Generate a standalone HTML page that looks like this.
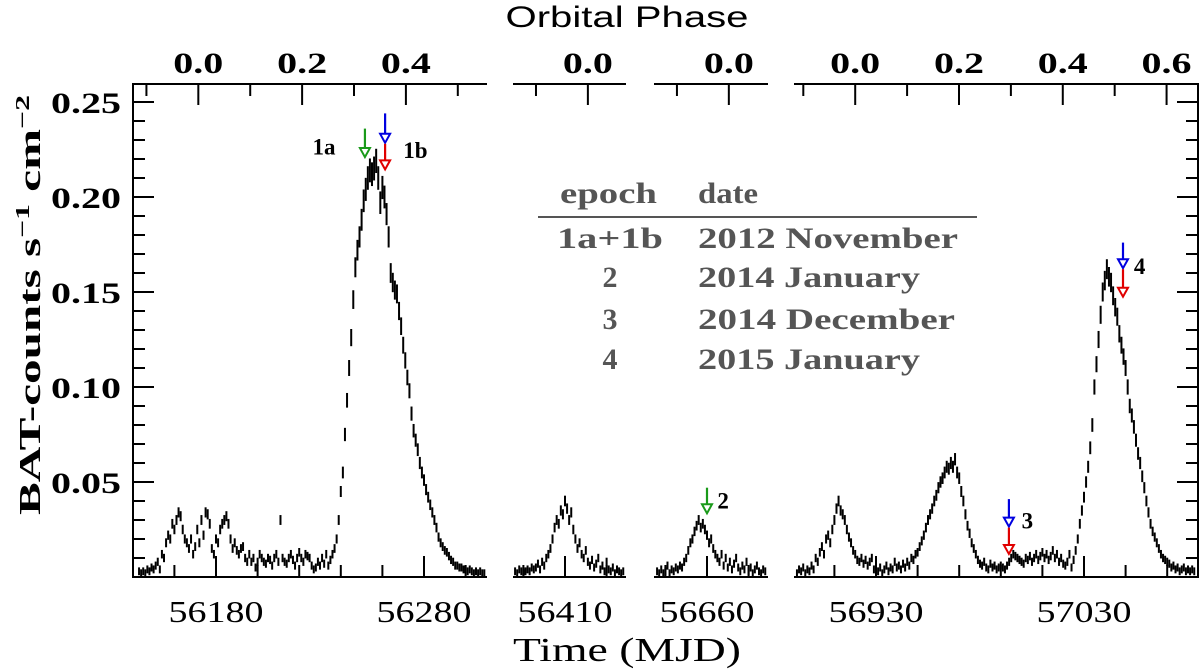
<!DOCTYPE html>
<html><head><meta charset="utf-8">
<style>
html,body{margin:0;padding:0;background:#fff;}
svg{display:block;}
.tl{font-family:"Liberation Serif",serif;font-weight:bold;fill:#000;}
.bl{font-family:"Liberation Serif",serif;fill:#000;}
.lg{font-family:"Liberation Serif",serif;font-weight:bold;fill:#555;font-size:30px;}
</style></head>
<body>
<svg id="chart" width="1200" height="671" viewBox="0 0 1200 671" xmlns="http://www.w3.org/2000/svg">
  <text x="627" y="27" text-anchor="middle" font-family="Liberation Sans, sans-serif" font-size="30" textLength="243" lengthAdjust="spacingAndGlyphs">Orbital Phase</text>
  <text x="627" y="661" text-anchor="middle" class="bl" font-size="34" textLength="228" lengthAdjust="spacingAndGlyphs">Time (MJD)</text>
  <text transform="translate(40,305) rotate(-90)" text-anchor="middle" class="tl" font-size="31" textLength="420" lengthAdjust="spacingAndGlyphs">BAT-counts s<tspan baseline-shift="super" font-size="20">−1</tspan> cm<tspan baseline-shift="super" font-size="20">−2</tspan></text>
  <g id="axes"></g>
  <g id="marks"></g>
  <g id="annot"></g>
  <g>
    <text class="lg" x="560" y="203" textLength="97" lengthAdjust="spacingAndGlyphs">epoch</text>
    <text class="lg" x="698" y="203" textLength="60" lengthAdjust="spacingAndGlyphs">date</text>
    <line x1="538" y1="217" x2="977" y2="217" stroke="#555" stroke-width="2"/>
    <text class="lg" x="557" y="248" textLength="106" lengthAdjust="spacingAndGlyphs">1a+1b</text>
    <text class="lg" x="698" y="248" textLength="260" lengthAdjust="spacingAndGlyphs">2012 November</text>
    <text class="lg" x="610" y="287" text-anchor="middle">2</text>
    <text class="lg" x="698" y="287" textLength="222" lengthAdjust="spacingAndGlyphs">2014 January</text>
    <text class="lg" x="610" y="329" text-anchor="middle">3</text>
    <text class="lg" x="698" y="329" textLength="257" lengthAdjust="spacingAndGlyphs">2014 December</text>
    <text class="lg" x="610" y="369" text-anchor="middle">4</text>
    <text class="lg" x="698" y="369" textLength="222" lengthAdjust="spacingAndGlyphs">2015 January</text>
  </g>
</svg>
<script>
// ---- data ----
const p1Start = 56143;
const p1Values = [
.003,.002,.003,.002,.004,.003,.005,.004,.006,
.008,.004,.012,.010,.018,.022,.020,.028,.025,
.030,.034,.032,.025,.020,.018,.015,.020,.012,.016,
.025,.018,.030,.022,.034,.033,.028,.015,.012,.020,
.018,.025,.028,.030,.032,.028,.020,.015,.018,.014,
.012,.015,.016,.010,.008,.012,.008,.010,.005,.008,
.012,.010,.008,.007,.010,.009,.006,.010,.012,.008,
.030,.010,.008,.007,.010,.012,.009,.006,.010,.013,
.010,.008,.012,.011,.010,.006,.004,.005,.008,.006,
.010,.007,.012,.006,.009,.012,.015,.020,.030,.045,
.055,.075,.093,.110,.126,.146,.163,.172,.179,.188,
.198,.204,.210,.214,.212,.215,.219,.210,.197,.205,
.200,.191,.179,.160,.155,.151,.149,.140,.132,.122,
.114,.105,.098,.086,.077,.072,.067,.060,.055,.051,
.046,.042,.038,.034,.030,.026,.021,.018,.016,.014,
.013,.011,.009,.008,.006,.006,.005,.005,.004,.004,
.003,.004,.003,.002,.003,.002,.003,.002,.002,.003];
const p2Start = 56386;
const p2Values = [
.003,.002,.004,.003,.002,.003,.004,.003,.005,.004,
.005,.007,.004,.008,.006,.010,.012,.015,.020,.026,
.030,.028,.035,.033,.040,.036,.030,.034,.025,.020,
.015,.018,.012,.010,.014,.008,.006,.009,.005,.007,
.010,.004,.006,.003,.008,.004,.003,.005,.002,.004,.003,.002,.003];
const p3Start = 56636;
const p3Values = [
.003,.002,.004,.002,.003,.006,.002,.004,.003,.005,
.004,.006,.005,.008,.010,.014,.018,.020,.024,.027,
.030,.026,.028,.025,.022,.018,.020,.015,.012,.010,
.008,.012,.006,.010,.005,.008,.004,.007,.010,.005,
.003,.006,.004,.008,.003,.005,.002,.004,.006,.003,.002,.004,.003];
const p4Start = 56891;
const p4Values = [
.003,.002,.004,.003,.005,.002,.004,.003,.006,.004,
.010,.008,.013,.016,.012,.020,.022,.018,.025,.030,
.036,.040,.035,.033,.030,.025,.021,.018,.014,.012,
.009,.008,.010,.007,.009,.006,.008,.010,.004,.006,
.003,.005,.002,.004,.006,.003,.005,.004,.008,.005,
.006,.004,.007,.005,.008,.006,.010,.009,.012,.013,
.016,.019,.022,.026,.030,.033,.036,.040,.043,.047,
.050,.052,.055,.058,.057,.060,.058,.062,.055,.052,
.045,.040,.033,.027,.023,.018,.015,.012,.009,.007,
.006,.008,.005,.004,.007,.005,.006,.004,.005,.006,
.005,.004,.006,.008,.010,.012,.011,.010,.009,.008,
.007,.010,.009,.011,.008,.010,.012,.009,.011,.013,
.010,.012,.009,.011,.014,.010,.012,.008,.010,.007,
.006,.008,.012,.005,.009,.014,.020,.028,.035,.042,
.050,.058,.068,.080,.100,.112,.125,.138,.150,.156,
.162,.158,.155,.148,.142,.137,.128,.122,.116,.110,
.100,.090,.085,.079,.072,.065,.060,.053,.047,.040,
.034,.028,.024,.021,.018,.015,.012,.010,.009,.008,
.007,.005,.006,.004,.005,.003,.004,.005,.003,.004,.003,.004,.003];
const errFloor = 0.002;
const errFrac = 0.02;
const yTicks = [0.05,0.10,0.15,0.20,0.25];
const yTickLabels = ["0.05","0.10","0.15","0.20","0.25"];
const bottomLabels = [[56180,56280],[56410],[56660],[56930,57030]];
const phaseLabels = [[0.0,0.2,0.4],[0.0],[0.0],[0.0,0.2,0.4,0.6]];
const orbitT0 = 56171.5;
const orbitP = 249.5;
const arrowMJD = [56251.6, 56261.3, 56261.3, 56660, 56993.9, 56993.9, 57048.75, 57048.75];
const arrowTop = [0.236, 0.244, 0.228, 0.047, 0.041, 0.026, 0.176, 0.162];
const arrowTip = [0.2205, 0.228, 0.214, 0.033, 0.026, 0.0116, 0.162, 0.147];
const arrowColor = ["#1a9a1a","#0000e0","#e00000","#1a9a1a","#0000e0","#e00000","#0000e0","#e00000"];
const arrowPanel = [0,0,0,2,3,3,3,3];
const labelText = ["1a","1b","2","3","4"];
const labelMJD = [56226.4, 56270, 56665, 57000, 57054];
const labelVal = [0.2225, 0.2205, 0.036, 0.0255, 0.1595];
const labelPanel = [0,0,2,3,3];

// ---- layout ----
const NS = "http://www.w3.org/2000/svg";
const PXD = 2.08;
const yTop = 84, yBot = 577;
const panels = [
  {x0:133,x1:487,refM:56180,refX:216,start:p1Start,vals:p1Values,left:true},
  {x0:513,x1:626,refM:56410,refX:565,start:p2Start,vals:p2Values},
  {x0:654,x1:768,refM:56660,refX:707,start:p3Start,vals:p3Values},
  {x0:794,x1:1198,refM:56930,refX:876,start:p4Start,vals:p4Values,right:true}
];
function xs(p, m){ return p.refX + (m - p.refM) * PXD; }
function ys(v){ return yBot - v * 1900; }
function mk(tag, attrs, parent){
  const e = document.createElementNS(NS, tag);
  for (const k in attrs) e.setAttribute(k, attrs[k]);
  parent.appendChild(e); return e;
}
const axes = document.getElementById('axes');
const marks = document.getElementById('marks');
const annot = document.getElementById('annot');

panels.forEach((p, pi) => {
  const g = mk('g', {}, axes);
  
  
  const line = (x1,y1,x2,y2,w) => mk('line',{x1,y1,x2,y2,stroke:'#000','stroke-width':w||2},g);
  line(p.x0, yTop, p.x1, yTop);
  line(p.x0, yBot, p.x1, yBot);
  if (p.left) line(p.x0, yTop-1, p.x0, yBot+1);
  if (p.right) line(p.x1, yTop-1, p.x1, yBot+1);
  for (let i = 1; i <= 25; i++) {
    const v = i / 100, y = ys(v);
    if (y < yTop + 2) continue;
    const len = (i % 5 === 0) ? 21 : 12;
    if (p.left) line(p.x0, y, p.x0 + len, y);
    if (p.right) line(p.x1, y, p.x1 - len, y);
  }
  const mLo = p.refM + (p.x0 - p.refX) / PXD, mHi = p.refM + (p.x1 - p.refX) / PXD;
  for (let m = p.refM - 200; m <= p.refM + 300; m += 20) {
    if (m <= mLo + 1 || m >= mHi - 1) continue;
    const x = xs(p, m);
    const major = bottomLabels[pi].includes(m);
    line(x, yBot, x, yBot - (major ? 21 : 12));
  }
  bottomLabels[pi].forEach(m => {
    const t = mk('text', {x: xs(p, m), y: 622, 'text-anchor':'middle', 'class':'bl', 'font-size':31, textLength:95, lengthAdjust:'spacingAndGlyphs'}, g);
    
    
    t.textContent = String(m);
  });
  for (let k = -3; k <= 8; k++) {
    const ph = k / 10;
    const m = orbitT0 + Math.round((p.refM - orbitT0) / orbitP - 0.2) * orbitP + ph * orbitP;
    if (m <= mLo + 1 || m >= mHi - 1) continue;
    const x = xs(p, m);
    line(x, yTop, x, yTop + (k % 2 === 0 ? 21 : 12));
  }
  phaseLabels[pi].forEach(ph => {
    const m = orbitT0 + Math.round((p.refM - orbitT0) / orbitP - 0.2) * orbitP + ph * orbitP;
    const t = mk('text', {x: xs(p, m), y: 73, 'text-anchor':'middle', 'class':'tl', 'font-size':30, textLength:50, lengthAdjust:'spacingAndGlyphs'}, g);
    
    
    t.textContent = ph.toFixed(1);
  });
  p.vals.forEach((v, i) => {
    const x = xs(p, p.start + i);
    if (x < p.x0 + 1 || x > p.x1 - 1) return;
    const e = errFloor + errFrac * v;
    const l = mk('line', {x1:x, x2:x, y1:ys(v+e), y2:ys(Math.max(v-e,0)), stroke:'#000', 'stroke-width':2}, marks);
    
    
  });
});
yTicks.forEach((v, i) => {
  const t = mk('text', {x:121, y: ys(v) + 11, 'text-anchor':'end', 'class':'tl', 'font-size':30, textLength:70, lengthAdjust:'spacingAndGlyphs'}, axes);
  
  
  t.textContent = yTickLabels[i];
});
arrowMJD.forEach((m, i) => {
  const p = panels[arrowPanel[i]];
  const x = xs(p, m), y0 = ys(arrowTop[i]), y1 = ys(arrowTip[i]);
  const c = arrowColor[i];
  const g = mk('g', {}, annot);
  
  
  mk('line', {x1:x, x2:x, y1:y0, y2:y1 - 9, stroke:c, 'stroke-width':2.2}, g);
  mk('polygon', {points:`${x-5},${y1-10} ${x+5},${y1-10} ${x},${y1-1}`, fill:'#fff', stroke:c, 'stroke-width':2}, g);
});
labelText.forEach((s, i) => {
  const p = panels[labelPanel[i]];
  const t = mk('text', {x: xs(p, labelMJD[i]), y: ys(labelVal[i]), 'class':'tl', 'font-size':23}, annot);
  
  
  t.textContent = s;
});
</script>
</body></html>
